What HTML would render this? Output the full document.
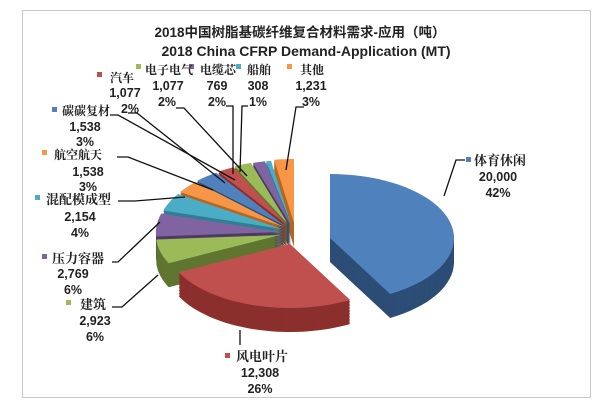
<!DOCTYPE html>
<html><head><meta charset="utf-8"><style>
body{margin:0;background:#fff;width:611px;height:405px;overflow:hidden}
svg{display:block}
text{font-family:"Liberation Sans","Noto Sans CJK SC",sans-serif;font-weight:bold;fill:#222}
.c{font-family:"Liberation Serif","Noto Serif CJK SC",serif;font-size:12px}
.n{font-size:12.5px;text-anchor:middle}
</style></head><body>
<svg id="s" width="611" height="405" xmlns="http://www.w3.org/2000/svg">
<rect x="22.5" y="10.5" width="568" height="387" fill="#fff" stroke="#c8c8c8"/>
<g id="pie"></g>
<g stroke="#111" stroke-width="1.3" fill="none">
<path d="M128 113 L137 113 L225 183"/>
<path d="M110 115 L118 115 L235 180"/>
<path d="M176 108 L184 108 L247 176"/>
<path d="M226 106 L233 106 L233 174"/>
<path d="M248 106 L242 106 L240 172"/>
<path d="M304 107 L296 107 L286 170"/>
<path d="M117 157 L128 157 L213 190"/>
<path d="M118 201 L135 201 L185 197"/>
<path d="M112 262 L118 262 L160 222"/>
<path d="M112 307 L122 307 L158 275"/>
<path d="M240 345 L240 330"/>
<path d="M465 160 L456 160 L444 196"/>
</g>
<text x="300" y="37" font-size="13.5" text-anchor="middle" font-family="Liberation Sans,Noto Sans CJK SC,sans-serif">2018中国树脂基碳纤维复合材料需求-应用（吨）</text>
<text x="306" y="56" font-size="14" text-anchor="middle">2018 China CFRP Demand-Application (MT)</text>
<g>
<rect x="97" y="72" width="5" height="5" fill="#c0504d"/>
<rect x="136" y="64" width="5" height="5" fill="#9bbb59"/>
<rect x="189" y="64" width="5" height="5" fill="#8064a2"/>
<rect x="236" y="64" width="5" height="5" fill="#4bacc6"/>
<rect x="287" y="64" width="5" height="5" fill="#f79646"/>
<rect x="52" y="107" width="5" height="5" fill="#4f81bd"/>
<rect x="42" y="150" width="5" height="5" fill="#f79646"/>
<rect x="35" y="195" width="5" height="5" fill="#4bacc6"/>
<rect x="42" y="254" width="5" height="5" fill="#8064a2"/>
<rect x="66" y="300" width="5" height="5" fill="#9bbb59"/>
<rect x="225" y="353" width="5" height="5" fill="#c0504d"/>
<rect x="466" y="157" width="5" height="5" fill="#4f81bd"/>
</g>
<text class="c" x="110" y="82">汽车</text>
<text class="n" x="125" y="97">1,077</text><text class="n" x="130" y="113">2%</text>
<text class="c" x="145" y="74">电子电气</text>
<text class="n" x="168" y="90">1,077</text><text class="n" x="167" y="106">2%</text>
<text class="c" x="200" y="74">电缆芯</text>
<text class="n" x="217" y="90">769</text><text class="n" x="217" y="106">2%</text>
<text class="c" x="247" y="74">船舶</text>
<text class="n" x="258" y="90">308</text><text class="n" x="258" y="106">1%</text>
<text class="c" x="300" y="74">其他</text>
<text class="n" x="311" y="90">1,231</text><text class="n" x="311" y="106">3%</text>
<text class="c" x="62" y="115">碳碳复材</text>
<text class="n" x="85" y="131">1,538</text><text class="n" x="85" y="146">3%</text>
<text class="c" x="54" y="159">航空航天</text>
<text class="n" x="88" y="176">1,538</text><text class="n" x="88" y="191">3%</text>
<text class="c" x="46" y="204" style="font-size:13px">混配模成型</text>
<text class="n" x="80" y="221">2,154</text><text class="n" x="80" y="237">4%</text>
<text class="c" x="52" y="263" style="font-size:13px">压力容器</text>
<text class="n" x="73" y="278">2,769</text><text class="n" x="73" y="294">6%</text>
<text class="c" x="80" y="309" style="font-size:13px">建筑</text>
<text class="n" x="95" y="325">2,923</text><text class="n" x="95" y="341">6%</text>
<text class="c" x="236" y="361" style="font-size:13px">风电叶片</text>
<text class="n" x="260" y="377">12,308</text><text class="n" x="260" y="393">26%</text>
<text class="c" x="474" y="165" style="font-size:13px">体育休闲</text>
<text class="n" x="498" y="181">20,000</text><text class="n" x="498" y="197">42%</text>
</svg>
<script>
var vals=[20000,12308,2923,2769,2154,1538,1538,1077,1077,769,308,1231];
var tops=["#4f81bd","#c0504d","#9bbb59","#8064a2","#4bacc6","#f79646","#4f81bd","#c0504d","#9bbb59","#8064a2","#4bacc6","#f79646"];
var sides=["#2c4d75","#8b2f2d","#5f7530","#4d3b62","#2f7f94","#b8661f","#2c4d75","#8b2f2d","#5f7530","#4d3b62","#2f7f94","#b8661f"];
var tot=vals.reduce(function(a,b){return a+b},0);
var cx=290,cy=232,rx=124,ry=64,D=24;
var off=[[40,6],[0,12],[-10,3],[-10,0],[-8,-3],[-6,-5],[-5,-6],[-3,-7],[-2,-8],[0,-8],[1,-8],[4,-9]];
var sl=[],a=0;
for(var i=0;i<vals.length;i++){var s=a,e=a+vals[i]/tot*2*Math.PI;a=e;var m=(s+e)/2;
sl.push({s:s,e:e,ox:cx+off[i][0],oy:cy+off[i][1],i:i,m:m});}
function path(o,dy){var p="M"+o.ox+" "+(o.oy+dy);var n=40;for(var k=0;k<=n;k++){var t=o.s+(o.e-o.s)*k/n;p+=" L"+(o.ox+rx*Math.sin(t)).toFixed(1)+" "+(o.oy+dy-ry*Math.cos(t)).toFixed(1);}return p+"Z";}
sl.sort(function(p,q){return (-Math.cos(p.m))-(-Math.cos(q.m));});
var h="";
sl.forEach(function(o){for(var d=D;d>0;d-=1.5)h+='<path d="'+path(o,d)+'" fill="'+sides[o.i]+'"/>';
h+='<path d="'+path(o,0)+'" fill="'+tops[o.i]+'"/>';});
document.getElementById("pie").innerHTML=h;
</script>
</body></html>
